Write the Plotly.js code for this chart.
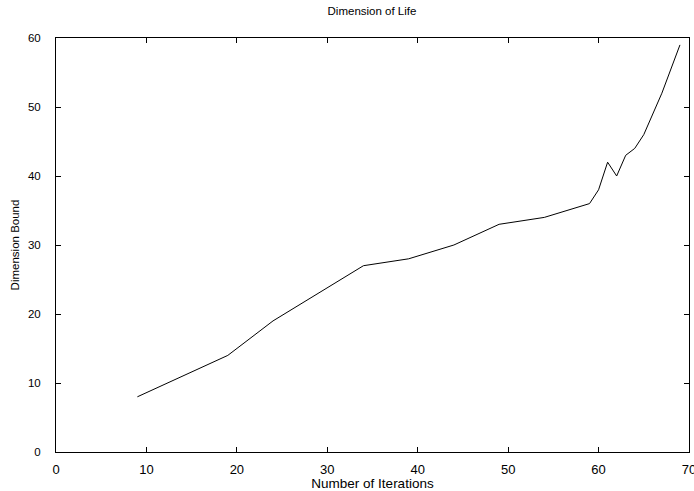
<!DOCTYPE html>
<html>
<head>
<meta charset="utf-8">
<script src="https://cdn.plot.ly/plotly-3.0.1.min.js"></script>
<style>html,body{margin:0;padding:0;background:#fff;}#chart{width:694px;height:491px;}</style>
</head>
<body>
<div id="chart"></div>
<script>
const iterations = [9, 19, 24, 34, 39, 44, 49, 54, 59, 60, 61, 62, 63, 64, 65, 67, 69];
const dimensionBound = [8, 14, 19, 27, 28, 30, 33, 34, 36, 38, 42, 40, 43, 44, 46, 52, 59];
const xTicks = [0, 10, 20, 30, 40, 50, 60, 70];
const yTicks = [0, 10, 20, 30, 40, 50, 60];

const fam = "Liberation Sans, Arial, sans-serif";
const font = {family: fam, size: 11, color: "#000"};
const xFont = {family: fam, size: 13, color: "#000"};
const axisCommon = {
  showgrid: false, zeroline: false, showline: true, linecolor: "#000", linewidth: 1,
  mirror: "allticks", ticks: "inside", ticklen: 5, tickcolor: "#000", tickwidth: 1,
  ticklabeloverflow: "allow"
};

Plotly.newPlot("chart", [{
  x: iterations, y: dimensionBound, type: "scatter", mode: "lines",
  line: {color: "#000", width: 1}
}], {
  width: 694, height: 491,
  margin: {l: 56, r: 5, t: 38, b: 39},
  paper_bgcolor: "#fff", plot_bgcolor: "#fff",
  font: font,
  showlegend: false,
  title: {text: "Dimension of Life", font: {family: fam, size: 11.5, color: "#000"}, x: 0.536, xanchor: "center", y: 0.985, yanchor: "top"},
  xaxis: Object.assign({}, axisCommon, {range: [0, 70], tickvals: xTicks, ticktext: xTicks.map(String),
    tickfont: xFont, ticklabelstandoff: 5,
    title: {text: "Number of Iterations", font: {family: fam, size: 13.5, color: "#000"}, standoff: 6}}),
  yaxis: Object.assign({}, axisCommon, {range: [0, 60], tickvals: yTicks, ticktext: yTicks.map(String),
    tickfont: {family: fam, size: 11.5, color: "#000"}, ticklabelstandoff: 12,
    title: {text: "Dimension Bound", font: {family: fam, size: 11.5, color: "#000"}, standoff: 5}})
}, {displayModeBar: false, staticPlot: true});
</script>
</body>
</html>
